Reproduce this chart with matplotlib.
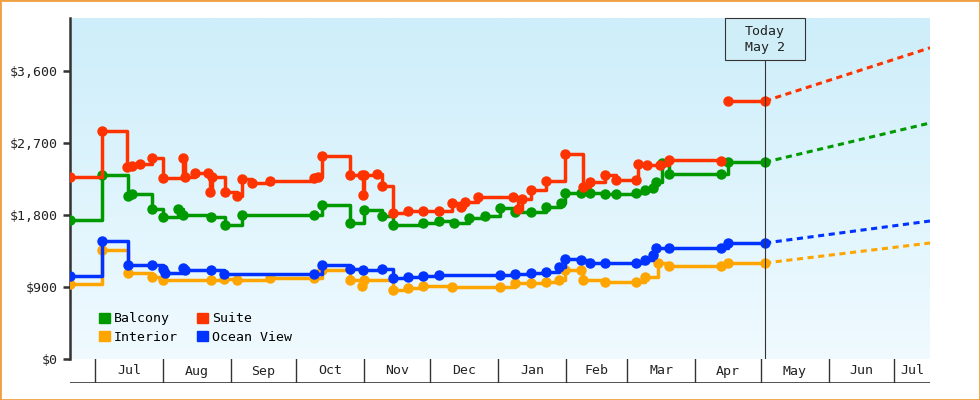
import matplotlib
matplotlib.use("Agg")
import matplotlib.pyplot as plt
from matplotlib.patches import Patch, Rectangle
import numpy as np

# days counted from Jul 1, prices in dollars (price holds until next change)
suite_days = [-11.4, 3, 14.6, 17, 20.5, 26, 31, 40, 41, 45.7, 51.6, 52.5, 53.5, 59.4, 65, 67, 71.7, 80,
              100, 102, 103.7, 116.4, 122, 122.4, 123, 129, 131, 136, 143, 150, 157, 163, 167, 169, 175,
              191, 193, 195, 199, 206, 214.6, 222.8, 226, 233, 238, 247, 248, 252, 258, 262, 286]
suite_vals = [2275, 2850, 2400, 2410, 2440, 2510, 2260, 2510, 2270, 2325, 2325, 2090, 2275, 2090, 2040, 2250, 2200, 2225,
              2260, 2275, 2540, 2300, 2300, 2050, 2300, 2310, 2160, 1825, 1850, 1850, 1850, 1950, 1900, 1960, 2025,
              2025, 1875, 2000, 2110, 2225, 2560, 2150, 2210, 2300, 2240, 2240, 2440, 2420, 2430, 2490, 2475]
suite_now_days = [289, 306]
suite_now_vals = [3225, 3225]

balcony_days = [-11.4, 3, 15, 17, 26, 31, 38, 40, 53, 59.4, 67, 100, 103.7, 116.4, 123, 131, 136, 150, 157, 164,
                171, 178, 185, 192, 199, 206, 213, 214.6, 222, 226, 233, 238, 247, 251, 255, 256, 259, 262, 286, 289, 306]
balcony_vals = [1740, 2300, 2040, 2060, 1870, 1780, 1870, 1800, 1780, 1675, 1800, 1800, 1925, 1700, 1860, 1790, 1675, 1700, 1720, 1700,
                1760, 1790, 1885, 1840, 1840, 1900, 1950, 2075, 2075, 2070, 2060, 2060, 2080, 2110, 2140, 2210, 2450, 2310, 2310, 2460, 2460]

ocean_days = [-11.4, 3, 15, 26, 31, 32, 40, 41, 53, 59, 100, 103.7, 116.4, 122.4, 131, 136, 143, 150, 157, 185,
              192, 199, 206, 212, 214.6, 222, 226, 233, 247, 251, 255, 256, 262, 286, 289, 306]
ocean_vals = [1040, 1475, 1175, 1175, 1125, 1075, 1140, 1110, 1110, 1065, 1065, 1175, 1125, 1110, 1125, 1010, 1025, 1040, 1050, 1050,
              1065, 1075, 1085, 1150, 1250, 1240, 1200, 1200, 1200, 1240, 1300, 1390, 1390, 1390, 1450, 1450]

interior_days = [-11.4, 3, 15, 26, 31, 53, 59, 65, 80, 100, 103.7, 116.4, 122, 123, 136, 143, 150, 163, 185,
                 192, 199, 206, 212, 214.6, 222, 223, 233, 247, 251, 257, 262, 286, 289, 306]
interior_vals = [940, 1360, 1075, 1030, 990, 990, 1000, 990, 1010, 1010, 1110, 990, 910, 990, 860, 890, 910, 900, 900,
                 950, 950, 965, 990, 1110, 1110, 990, 960, 960, 1030, 1200, 1160, 1160, 1200, 1200]

# forecast end values (dotted)
forecast_end = {"Suite": 3890, "Balcony": 2950, "Ocean View": 1725, "Interior": 1450}

month_starts = [0, 31, 62, 92, 123, 153, 184, 215, 243, 274, 304, 335, 365]
month_names = ["Jul", "Aug", "Sep", "Oct", "Nov", "Dec", "Jan", "Feb", "Mar", "Apr", "May", "Jun", "Jul"]
today = 306
x0, x1 = -11.4, 381.3
y_ticks = [0, 900, 1800, 2700, 3600]

plt.rcParams["font.family"] = "DejaVu Sans Mono"
fig = plt.figure(figsize=(9.8, 4), dpi=100)
fig.patches.append(plt.Rectangle((0, 0), 1, 1, transform=fig.transFigure, fill=False,
                                 edgecolor="#f0a040", linewidth=2))
ax = fig.add_axes([70/980, 41/400, 860/980, 341/400])
ymax = (359 - 18) / 0.08

grad = np.linspace(0, 1, 256).reshape(-1, 1)
top = np.array([205, 238, 250]) / 255
bot = np.array([240, 250, 255]) / 255
img = top + (bot - top) * grad[:, :, None] * np.ones((1, 1, 3))
ax.imshow(img, extent=[x0, x1, 0, ymax], aspect="auto", zorder=0)

colors = {"Balcony": "#009900", "Suite": "#ff3300", "Interior": "#ffa500", "Ocean View": "#0033ff"}
series = [("Interior", interior_days, interior_vals), ("Ocean View", ocean_days, ocean_vals),
          ("Balcony", balcony_days, balcony_vals), ("Suite", suite_days, suite_vals)]
for name, d, v in series:
    c = colors[name]
    ax.plot(d, v, drawstyle="steps-post", color=c, lw=2.5, zorder=3)
    ax.plot(d, v, "o", color=c, ms=6.5, zorder=3)
    last = v[-1]
    if name == "Suite":
        ax.plot(suite_now_days, suite_now_vals, drawstyle="steps-post", color=c, lw=2.5, zorder=3)
        ax.plot(suite_now_days, suite_now_vals, "o", color=c, ms=6.5, zorder=3)
        last = suite_now_vals[-1]
    ax.plot([today, x1], [last, forecast_end[name]], color=c, lw=2.2, ls=(0, (2, 1.5)), zorder=3)

box_h = 42 / 0.08
box_w = 80 / 2.19
ax.axvline(today, ymax=(359 - 60) / 341, color="#333333", lw=0.8, zorder=4)
ax.add_patch(Rectangle((today - box_w / 2, ymax - box_h), box_w, box_h, facecolor="#d0eef8",
                       edgecolor="#333333", lw=0.8, zorder=5, clip_on=False))
ax.text(today, ymax - box_h / 2, "Today\nMay 2", ha="center", va="center", fontsize=9.5,
        color="#222222", linespacing=1.3, zorder=6)

ax.set_xlim(x0, x1)
ax.set_ylim(0, ymax)
ax.set_yticks(y_ticks)
ax.set_yticklabels(["$0", "$900", "$1,800", "$2,700", "$3,600"], fontsize=9.5, color="#222222")
ax.set_xticks([])
for s in ["top", "right", "bottom"]:
    ax.spines[s].set_visible(False)
ax.spines["left"].set_linewidth(1.8)
ax.spines["left"].set_color("#333333")
ax.tick_params(axis="y", length=5, width=1.8, color="#333333")

handles = [Patch(color=colors[n]) for n in ["Balcony", "Interior", "Suite", "Ocean View"]]
ax.legend(handles, ["Balcony", "Interior", "Suite", "Ocean View"], ncol=2, loc="lower left",
          bbox_to_anchor=(0.02, 0.01), frameon=False, fontsize=9.5, handlelength=0.8, handleheight=0.8,
          handletextpad=0.3, columnspacing=1.5, labelspacing=0.4)

band = fig.add_axes([70/980, 17/400, 860/980, 24/400])
band.set_xlim(x0, x1)
band.set_ylim(0, 1)
band.axis("off")
band.axhline(0, color="#333333", lw=1.2)
for i, m in enumerate(month_starts):
    band.axvline(m, color="#333333", lw=1)
    end = month_starts[i + 1] if i + 1 < len(month_starts) else x1
    band.text((m + end) / 2, 0.5, month_names[i], ha="center", va="center", fontsize=9.5, color="#222222")

fig.savefig("out.png", dpi=100)
